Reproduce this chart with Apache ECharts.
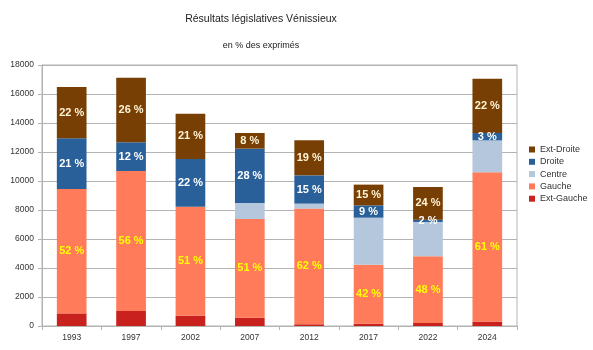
<!DOCTYPE html>
<html>
<head>
<meta charset="utf-8">
<script src="https://cdn.jsdelivr.net/npm/echarts@6/dist/echarts.min.js"></script>
<style>
  html, body { margin: 0; padding: 0; background: #fff; }
  #chart { width: 593px; height: 350px; }
</style>
</head>
<body>
<div id="chart"></div>
<script>
const years = ['1993', '1997', '2002', '2007', '2012', '2017', '2022', '2024'];

// votes par bloc
const extGauche = [870, 1035, 710, 575, 120, 160, 210, 300];
const gauche = [8580, 9655, 7520, 6805, 7975, 4070, 4595, 10300];
const centre = [0, 0, 0, 1105, 345, 3240, 2370, 2205];
const droite = [3495, 1980, 3290, 3745, 1950, 850, 160, 505];
const extDroite = [3540, 4455, 3125, 1080, 2415, 1430, 2255, 3750];

// étiquettes en % des exprimés
const pctGauche = ['52 %', '56 %', '51 %', '51 %', '62 %', '42 %', '48 %', '61 %'];
const pctDroite = ['21 %', '12 %', '22 %', '28 %', '15 %', '9 %', '2 %', '3 %'];
const pctExtDroite = ['22 %', '26 %', '21 %', '8 %', '19 %', '15 %', '24 %', '22 %'];

const yTicks = [0, 2000, 4000, 6000, 8000, 10000, 12000, 14000, 16000, 18000];

const chart = echarts.init(document.getElementById('chart'), null, { renderer: 'canvas' });

const font = 'Liberation Sans, Arial, sans-serif';

function pctLabel(arr, color) {
  return {
    show: true,
    position: 'inside',
    color: color,
    fontFamily: font,
    fontSize: 11,
    fontWeight: 'bold',
    formatter: p => arr[p.dataIndex]
  };
}

const noLabel = { show: false };

const option = {
  animation: false,
  textStyle: { fontFamily: font },
  title: [{
    text: 'Résultats législatives Vénissieux',
    left: 261,
    top: 14,
    padding: 0,
    textAlign: 'center',
    textStyle: { fontSize: 10.5, fontWeight: 'normal', color: '#222', fontFamily: font }
  }, {
    text: 'en % des exprimés',
    left: 261,
    top: 41,
    padding: 0,
    textAlign: 'center',
    textStyle: { fontSize: 9, fontWeight: 'normal', color: '#222', fontFamily: font }
  }],
  legend: {
    orient: 'vertical',
    left: 529,
    top: 145,
    padding: 0,
    itemWidth: 6,
    itemHeight: 6,
    itemGap: 3.3,
    icon: 'rect',
    data: ['Ext-Droite', 'Droite', 'Centre', 'Gauche', 'Ext-Gauche'],
    textStyle: { fontSize: 9, lineHeight: 9, color: '#333', fontFamily: font }
  },
  grid: {
    left: 42,
    right: 76,
    top: 65,
    bottom: 24,
    show: true,
    borderColor: '#b3b3b3',
    borderWidth: 1
  },
  xAxis: {
    type: 'category',
    data: years,
    axisLine: { lineStyle: { color: '#b3b3b3' } },
    axisTick: { show: true, length: 4, lineStyle: { color: '#b3b3b3' } },
    axisLabel: { fontSize: 8.5, color: '#333', margin: 7, fontFamily: font }
  },
  yAxis: {
    type: 'value',
    min: yTicks[0],
    max: yTicks[yTicks.length - 1],
    interval: 2000,
    axisLine: { show: true, lineStyle: { color: '#b3b3b3' } },
    axisTick: { show: true, length: 4, lineStyle: { color: '#b3b3b3' } },
    axisLabel: { fontSize: 8.5, color: '#333', margin: 8, fontFamily: font, formatter: v => String(v) },
    splitLine: { lineStyle: { color: '#b3b3b3' } }
  },
  series: [{
    name: 'Ext-Gauche',
    type: 'bar',
    stack: 'v',
    barWidth: '50%',
    itemStyle: { color: '#c9211e' },
    label: noLabel,
    data: extGauche
  }, {
    name: 'Gauche',
    type: 'bar',
    stack: 'v',
    itemStyle: { color: '#ff7b59' },
    label: pctLabel(pctGauche, '#ffff00'),
    data: gauche
  }, {
    name: 'Centre',
    type: 'bar',
    stack: 'v',
    itemStyle: { color: '#b4c7dc' },
    label: noLabel,
    data: centre
  }, {
    name: 'Droite',
    type: 'bar',
    stack: 'v',
    itemStyle: { color: '#2a6099' },
    label: pctLabel(pctDroite, '#ffffff'),
    data: droite
  }, {
    name: 'Ext-Droite',
    type: 'bar',
    stack: 'v',
    itemStyle: { color: '#783f04' },
    label: pctLabel(pctExtDroite, '#fff5d6'),
    data: extDroite
  }]
};

chart.setOption(option);
</script>
</body>
</html>
